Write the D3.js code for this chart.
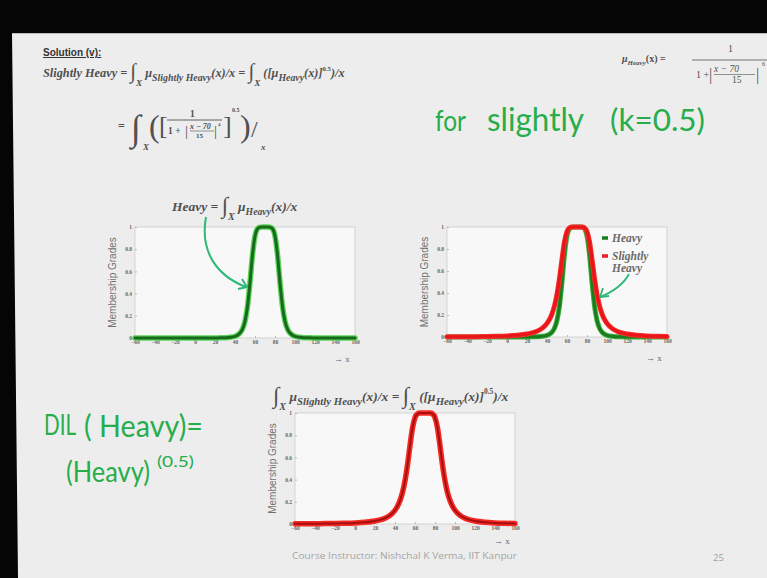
<!DOCTYPE html>
<html><head><meta charset="utf-8">
<script src="https://cdn.jsdelivr.net/npm/d3@7"></script>
<style>html,body{margin:0;padding:0;background:#000;}svg{display:block;}</style>
</head><body>
<svg id="c" width="767" height="578"></svg>
<script>
// ---------- data ----------
const xValues = [-60,-50,-40,-30,-20,-10,0,10,20,25,30,35,40,42.5,45,47.5,50,52.5,55,57.5,60,62.5,65,67.5,70,
  72.5,75,77.5,80,82.5,85,87.5,90,92.5,95,97.5,100,105,110,115,120,130,140,150,160];
const heavyValues = [0,0,0,0,0,0,0.0001,0.0002,0.0007,0.0014,0.0028,0.0062,0.0154,0.0257,0.0446,0.0807,0.1511,0.2840,0.5,0.7491,0.9193,0.9846,0.9986,1,1,
  1,0.9986,0.9846,0.9193,0.7491,0.5,0.2840,0.1511,0.0807,0.0446,0.0257,0.0154,0.0062,0.0028,0.0014,0.0007,0.0002,0.0001,0,0];
const slightlyHeavyValues = [0.0015,0.0020,0.0025,0.0034,0.0046,0.0066,0.0098,0.0156,0.0270,0.0370,0.0527,0.0785,0.1240,0.1602,0.2112,0.2841,0.3887,0.5329,0.7071,0.8655,0.9588,0.9923,0.9993,1,1,
  1,0.9993,0.9923,0.9588,0.8655,0.7071,0.5329,0.3887,0.2841,0.2112,0.1602,0.1240,0.0785,0.0527,0.0370,0.0270,0.0156,0.0098,0.0066,0.0046];
const xTicks = [-60,-40,-20,0,20,40,60,80,100,120,140,160];
const yTicks = [0,0.2,0.4,0.6,0.8,1];
const yTickLabels = ["0","0.2","0.4","0.6","0.8","1"];
const legendLabels = ["Heavy","Slightly","Heavy"];

const svg = d3.select("#c");
svg.append("rect").attr("width",767).attr("height",578).attr("fill","#ededed");
svg.append("path").attr("d","M0,0H767V33H12L18,578H0Z").attr("fill","#050505");
svg.append("line").attr("x1",12).attr("x2",767).attr("y1",33.5).attr("y2",33.5).attr("stroke","#bbb");

const MATH_FILL = "#505050";
function math(x, y, segs, fs, subRatio) {
  const sr = subRatio || 0.62;
  const t = svg.append("text").attr("x",x).attr("y",y)
    .attr("font-family","Liberation Serif").attr("font-style","italic").attr("font-weight","bold")
    .attr("font-size",fs).attr("fill",MATH_FILL);
  let cur = 0;
  segs.forEach(([txt,kind])=>{
    let off=0,size=fs,st="italic",wt="bold";
    if(kind==="sub"){off=fs*0.3;size=fs*sr;}
    if(kind==="sup"){off=-fs*0.5;size=fs*0.55;st="normal";}
    if(kind==="int"){off=fs*0.12;size=fs*1.7;st="normal";wt="normal";}
    if(kind==="isub"){off=fs*0.7;size=fs*0.75;}
    if(kind==="up"){st="normal";}
    t.append("tspan").attr("dy",off-cur).attr("font-size",size).attr("font-style",st).attr("font-weight",wt).text(txt);
    cur = off;
  });
  return t;
}

// ---------- header texts ----------
svg.append("text").attr("x",43).attr("y",56).attr("font-family","Liberation Sans").attr("font-weight","bold")
  .attr("font-size",10).attr("fill","#333").attr("text-decoration","underline").text("Solution (v):");

math(43,77,[["Slightly Heavy = ","n"],["∫","int"],["X","isub"],["  μ","n"],["Slightly Heavy","sub"],["(x)/x = ","n"],
  ["∫","int"],["X","isub"],["  ([μ","n"],["Heavy","sub"],["(x)]","n"],["0.5","sup"],[")/x","n"]],12.3,0.8);

// second line
(function(){
  function tx(x,y,s,size,style,wt){return svg.append("text").attr("x",x).attr("y",y).attr("font-size",size)
    .attr("font-family","Liberation Serif").attr("fill",MATH_FILL).attr("font-weight",wt||"bold")
    .attr("font-style",style||"normal").text(s);}
  tx(118,130,"=",12);
  tx(131,140,"∫",36,null,"normal");
  tx(143,150,"X",9,"italic");
  tx(149,137,"(",32,null,"normal");
  tx(159,134,"[",26,null,"normal");
  tx(190,117,"1",9.5);
  svg.append("line").attr("x1",167).attr("x2",222).attr("y1",120).attr("y2",120).attr("stroke",MATH_FILL).attr("stroke-width",0.9);
  tx(168,134,"1 + ",9.5);
  tx(185,136,"|",15,null,"normal");
  tx(190,129,"x − 70",8,"italic");
  svg.append("line").attr("x1",190).attr("x2",214).attr("y1",131).attr("y2",131).attr("stroke",MATH_FILL).attr("stroke-width",0.6);
  tx(196,138,"15",7);
  tx(214,136,"|",15,null,"normal");
  tx(218,126,"4",5);
  tx(223,134,"]",26,null,"normal");
  tx(232,112,"0.5",6);
  tx(240,137,")",32,null,"normal");
  tx(251,137,"/",24,null,"normal");
  tx(261,150,"x",9,"italic");
})();

// top right formula
math(622,62,[["μ","n"],["Heavy","sub"],["(x) =","up"]],10,0.7);
(function(){
  function tx(x,y,s,size,style){return svg.append("text").attr("x",x).attr("y",y).attr("font-size",size)
    .attr("font-family","Liberation Serif").attr("fill",MATH_FILL).attr("font-style",style||"normal").text(s);}
  tx(728,52,"1",10);
  svg.append("line").attr("x1",692).attr("x2",767).attr("y1",60).attr("y2",60).attr("stroke",MATH_FILL).attr("stroke-width",0.8);
  tx(696,78,"1 +",10);
  tx(709,80,"|",16);
  tx(714,72,"x − 70",9.5,"italic");
  svg.append("line").attr("x1",714).attr("x2",755).attr("y1",74.5).attr("y2",74.5).attr("stroke",MATH_FILL).attr("stroke-width",0.6);
  tx(732,83,"15",9.5);
  tx(756,80,"|",16);
  tx(762,66,"6",6);
})();

// ---------- handwriting ----------
const HAND = "#27ad4b";
function hand(x,y,s,size,len,wt){
  const t = svg.append("text").attr("x",x).attr("y",y).attr("font-family","Lato").attr("font-weight",wt||400)
    .attr("font-size",size).attr("fill",HAND).text(s);
  if(len) t.attr("textLength",len).attr("lengthAdjust","spacingAndGlyphs");
  return t;
}
hand(435,131,"for",28,31);
hand(487,131,"slightly",32,97);
hand(610,131,"(k=0.5)",30,95);
hand(44,435,"DIL",28,32);
hand(84,437,"( Heavy)=",30,119);
hand(66,482,"(Heavy)",28,84);
hand(157,467,"(0.5)",16,37);

// ---------- plots ----------
function plot(x0,x1,y0,y1,series,xlabDy){
  const x = d3.scaleLinear().domain([-60,160]).range([x0,x1]);
  const y = d3.scaleLinear().domain([0,1]).range([y1,y0]);
  const g = svg.append("g");
  g.append("rect").attr("x",x0).attr("y",y0).attr("width",x1-x0).attr("height",y1-y0)
    .attr("fill","#f8f8f8").attr("stroke","#cacaca").attr("stroke-width",0.8);
  const ax = g.append("g").attr("transform",`translate(0,${y1})`)
    .call(d3.axisBottom(x).tickValues(xTicks).tickSize(-2).tickPadding(4).tickFormat(d3.format("d")));
  const ay = g.append("g").attr("transform",`translate(${x0},0)`)
    .call(d3.axisLeft(y).tickValues(yTicks).tickSize(-2).tickPadding(3).tickFormat((d,i)=>yTickLabels[i]));
  [ax,ay].forEach(a=>{
    a.select(".domain").remove();
    a.selectAll(".tick line").attr("stroke","#bbb");
    a.selectAll(".tick text").attr("font-family","Liberation Serif").attr("font-size",5.5).attr("font-weight","bold").attr("fill","#666");
  });
  ax.selectAll(".tick text").attr("dy","0.3em");
  g.append("text").attr("transform",`translate(${x0-19},${(y0+y1)/2}) rotate(-90)`).attr("text-anchor","middle")
    .attr("font-family","Liberation Sans").attr("font-size",10).attr("fill","#707070").text("Membership Grades");
  g.append("text").attr("x",x1-21).attr("y",y1+(xlabDy||24)).attr("font-family","Liberation Serif").attr("font-size",9)
    .attr("fill","#666").text("→ x");
  const line = d3.line().x((d,i)=>x(xValues[i])).y(d=>y(d)).curve(d3.curveMonotoneX);
  series.forEach(s=>{
    s.strokes.forEach(([col,w])=>{
      g.append("path").attr("d",line(s.values)).attr("fill","none").attr("stroke",col).attr("stroke-width",w)
        .attr("stroke-linejoin","round").attr("stroke-linecap","round");
    });
  });
  return {x,y,g};
}

// chart 1
math(172,211,[["Heavy = ","n"],["∫","int"],["X","isub"],["  μ","n"],["Heavy","sub"],["(x)/x","n"]],13.5,0.72);
plot(135,355,227,338,[{values:heavyValues,strokes:[["#5bd25b",5.5],["#176a1a",3]]}]);

// chart 2
plot(447,667,227,337,[
  {values:heavyValues,strokes:[["#3fae3f",5],["#1a7d1d",3]]},
  {values:slightlyHeavyValues,strokes:[["#f5302a",5],["#e8161a",3]]}
]);
svg.append("line").attr("x1",602).attr("x2",608).attr("y1",238).attr("y2",238).attr("stroke","#1a7d1d").attr("stroke-width",3.5);
svg.append("line").attr("x1",602).attr("x2",608).attr("y1",256).attr("y2",256).attr("stroke","#ee1c1c").attr("stroke-width",3.5);
[[612,242],[612,260],[612,272]].forEach(([lx,ly],i)=>{
  svg.append("text").attr("x",lx).attr("y",ly).attr("font-family","Liberation Serif").attr("font-style","italic")
    .attr("font-weight","bold").attr("font-size",11.5).attr("fill","#6a6a6a").text(legendLabels[i]);
});

// chart 3
math(273,401,[["∫","int"],["X","isub"],["  μ","n"],["Slightly Heavy","sub"],["(x)/x = ","n"],
  ["∫","int"],["X","isub"],["  ([μ","n"],["Heavy","sub"],["(x)]","n"],["0.5","sup"],[")/x","n"]],13.5,0.8);
plot(295,515,413,524,[{values:slightlyHeavyValues,strokes:[["#f52a24",5.5],["#a50f0f",2]]}],20);

// arrows
const ARROW = "#2db878";
svg.append("path").attr("d","M206,217 C200,250 215,275 246,287").attr("fill","none").attr("stroke",ARROW).attr("stroke-width",2);
svg.append("path").attr("d","M242,279 L247,287 L238,289").attr("fill","none").attr("stroke",ARROW).attr("stroke-width",2).attr("stroke-linejoin","round");
svg.append("path").attr("d","M629,274 C622,287 610,293 600,297").attr("fill","none").attr("stroke",ARROW).attr("stroke-width",1.8);
svg.append("path").attr("d","M603,288 L600,297 L609,296").attr("fill","none").attr("stroke",ARROW).attr("stroke-width",1.8).attr("stroke-linejoin","round");

// footer
svg.append("text").attr("x",292).attr("y",559).attr("font-family","Open Sans").attr("font-size",9.5).attr("fill","#a5a5a5")
  .attr("textLength",225).attr("lengthAdjust","spacingAndGlyphs").text("Course Instructor: Nishchal K Verma, IIT Kanpur");
svg.append("text").attr("x",713).attr("y",561).attr("font-family","Open Sans").attr("font-size",9.5).attr("fill","#a0a0a0").text("25");
</script>
</body></html>
